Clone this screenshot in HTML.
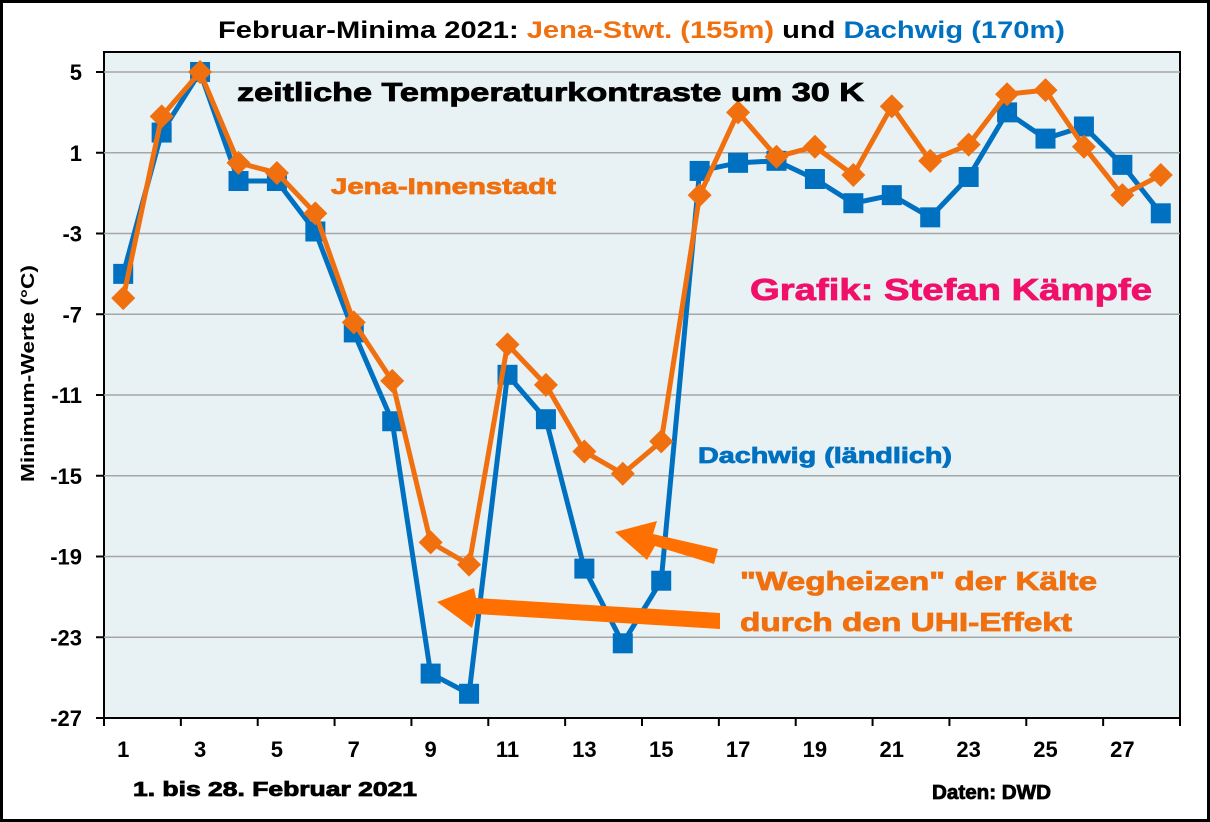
<!DOCTYPE html>
<html><head><meta charset="utf-8"><style>
body{margin:0;background:#fff;}
svg{display:block;font-family:"Liberation Sans",Arial,sans-serif;font-weight:bold;}
.heavy{stroke-width:0.8px;paint-order:stroke;}
</style></head><body>
<svg id="chart" width="1210" height="822" viewBox="0 0 1210 822" xmlns="http://www.w3.org/2000/svg">
<rect x="1.5" y="1.5" width="1207" height="819" fill="#fff" stroke="#000" stroke-width="3"/>
<rect x="104" y="52" width="1076" height="666" fill="#e8f1f4" stroke="#000" stroke-width="2"/>
<g id="grid"></g><g id="axes"></g><g id="series"></g>
<text x="218" y="38" font-size="24" textLength="847" lengthAdjust="spacingAndGlyphs"><tspan fill="#000">Februar-Minima 2021: </tspan><tspan fill="#f07010">Jena-Stwt. (155m)</tspan><tspan fill="#000"> und </tspan><tspan fill="#0070c0">Dachwig (170m)</tspan></text>
<text class="heavy" stroke="#000" x="237" y="101" font-size="26" fill="#000" textLength="627" lengthAdjust="spacingAndGlyphs">zeitliche Temperaturkontraste um 30 K</text>
<text class="heavy" stroke="#f07010" x="331" y="194" font-size="22" fill="#f07010" textLength="225" lengthAdjust="spacingAndGlyphs">Jena-Innenstadt</text>
<text class="heavy" stroke="#0070c0" x="698" y="463" font-size="22" fill="#0070c0" textLength="254" lengthAdjust="spacingAndGlyphs">Dachwig (ländlich)</text>
<text class="heavy" stroke="#f0106a" x="750" y="300" font-size="31" fill="#f0106a" textLength="402" lengthAdjust="spacingAndGlyphs">Grafik: Stefan Kämpfe</text>
<text class="heavy" stroke="#f07010" x="740" y="590" font-size="26" fill="#f07010" textLength="357" lengthAdjust="spacingAndGlyphs">"Wegheizen" der Kälte</text>
<text class="heavy" stroke="#f07010" x="740" y="631" font-size="26" fill="#f07010" textLength="332" lengthAdjust="spacingAndGlyphs">durch den UHI-Effekt</text>
<g fill="#ff7000">
<polygon points="718,549 714,564 655,546 647,560 615,532 657,521 653,534"/>
<polygon points="720,613 720,629 476,614 472,628 437,602 474,588 476,598"/>
</g>
<text x="34" y="482" font-size="18" textLength="217" lengthAdjust="spacingAndGlyphs" transform="rotate(-90 34 482)">Minimum-Werte (°C)</text>
<text class="heavy" stroke="#000" x="133" y="796" font-size="20" textLength="284" lengthAdjust="spacingAndGlyphs">1. bis 28. Februar 2021</text>
<text class="heavy" stroke="#000" x="932" y="799" font-size="20" textLength="119" lengthAdjust="spacingAndGlyphs">Daten: DWD</text>
</svg>
<script>
const days=[1,2,3,4,5,6,7,8,9,10,11,12,13,14,15,16,17,18,19,20,21,22,23,24,25,26,27,28];
const dachwig=[-5.0,2.0,5.0,-0.4,-0.4,-2.9,-7.9,-12.3,-24.8,-25.8,-10.0,-12.2,-19.6,-23.3,-20.2,0.1,0.5,0.6,-0.3,-1.5,-1.1,-2.2,-0.2,3.0,1.7,2.3,0.4,-2.0];
const jena=[-6.2,2.8,5.0,0.5,0.0,-2.0,-7.4,-10.3,-18.3,-19.4,-8.5,-10.5,-13.8,-14.9,-13.3,-1.1,3.0,0.8,1.3,-0.1,3.3,0.6,1.4,3.9,4.1,1.3,-1.1,-0.1];
const yTicks=[5,1,-3,-7,-11,-15,-19,-23,-27];
const xLabels=[1,3,5,7,9,11,13,15,17,19,21,23,25,27];
const NS='http://www.w3.org/2000/svg';
const L=104,R=1180,T=52,B=718,yMax=5,yMin=-27;
const cw=(R-L)/days.length;
const xS=d=>L+(d-0.5)*cw;
const yS=v=>72+(yMax-v)*(B-72)/(yMax-yMin);
function mk(tag,attrs,parent){const e=document.createElementNS(NS,tag);for(const k in attrs)e.setAttribute(k,attrs[k]);parent.appendChild(e);return e;}
const grid=document.getElementById('grid'),axes=document.getElementById('axes'),ser=document.getElementById('series');
yTicks.forEach(v=>{
  if(v!==yMin){const g=mk('line',{x1:L,x2:R,y1:yS(v),y2:yS(v),stroke:'#a6a6a6','stroke-width':1.5},grid);
  
  }
  const t=mk('line',{x1:L-8,x2:L,y1:yS(v),y2:yS(v),stroke:'#000','stroke-width':2},axes);
  
  
  const tx=mk('text',{x:L-22,y:yS(v)+8,'text-anchor':'end','font-size':22},axes);tx.textContent=v;
  
  
});
for(let i=0;i<=days.length;i+=2){
  const t=mk('line',{x1:L+i*cw,x2:L+i*cw,y1:B,y2:B+8,stroke:'#000','stroke-width':2},axes);
  
  
}
xLabels.forEach(d=>{
  const tx=mk('text',{x:xS(d),y:B+39,'text-anchor':'middle','font-size':22},axes);tx.textContent=d;
  
  
});
function line(vals,color,name){
  const p=mk('polyline',{points:vals.map((v,i)=>xS(days[i])+','+yS(v)).join(' '),fill:'none',stroke:color,'stroke-width':5,'stroke-linejoin':'round'},ser);
  
  
}
line(dachwig,'#0070c0','dachwig-line');
dachwig.forEach((v,i)=>{
  const m=mk('rect',{x:xS(days[i])-10,y:yS(v)-10,width:20,height:20,fill:'#0070c0'},ser);
  
  
});
line(jena,'#f07010','jena-line');
jena.forEach((v,i)=>{
  const x=xS(days[i]),y=yS(v);
  const m=mk('polygon',{points:`${x},${y-12} ${x+12},${y} ${x},${y+12} ${x-12},${y}`,fill:'#f07010'},ser);
  
  
});
</script>
</body></html>
